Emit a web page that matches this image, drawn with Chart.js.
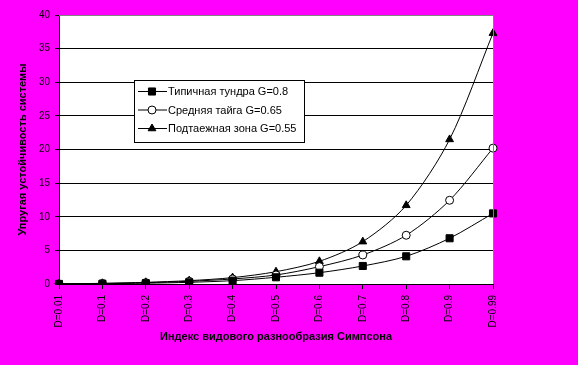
<!DOCTYPE html>
<html>
<head>
<meta charset="utf-8">
<script src="https://cdn.jsdelivr.net/npm/chart.js@4"></script>
<style>
    body { margin: 0; background: #ff00ff; }
    #wrap { width: 578px; height: 365px; }
</style>
</head>
<body>
<div id="wrap"><canvas id="chart" width="578" height="365"></canvas></div>
<script>
// ===== DATA =====
const categories = ["D=0.01", "D=0.1", "D=0.2", "D=0.3", "D=0.4", "D=0.5",
    "D=0.6", "D=0.7", "D=0.8", "D=0.9", "D=0.99"];
const tundra = [0.01, 0.05, 0.12, 0.25, 0.5, 1.0, 1.68, 2.68, 4.12, 6.8, 10.5];
const taiga = [0.02, 0.08, 0.2, 0.4, 0.75, 1.34, 2.58, 4.31, 7.25, 12.45, 20.2];
const subtaiga = [0.02, 0.1, 0.25, 0.5, 0.95, 1.83, 3.37, 6.3, 11.7, 21.5, 37.3];
const seriesNames = ["Типичная тундра G=0.8", "Средняя тайга G=0.65", "Подтаежная зона G=0.55"];
const yTicks = [0, 5, 10, 15, 20, 25, 30, 35, 40];

const FONT = "Arial, 'Liberation Sans', sans-serif";

//
// ================= PLUGINS =================
//
const plotBackground = {
    id: "plotBackground",
    beforeDraw(chart) {
        const { ctx, chartArea: a } = chart;
        ctx.save();
        ctx.fillStyle = "#ff00ff";
        ctx.fillRect(0, 0, chart.width, chart.height);
        ctx.fillStyle = "#ffffff";
        ctx.fillRect(a.left, a.top, a.right - a.left, a.bottom - a.top);
        ctx.restore();
    },
    afterDraw(chart) {
        const { ctx, chartArea: a } = chart;
        ctx.save();
        ctx.strokeStyle = "#808080";
        ctx.lineWidth = 1;
        ctx.beginPath();
        ctx.moveTo(a.left, a.top + 0.5);
        ctx.lineTo(a.right + 0.5, a.top + 0.5);
        ctx.lineTo(a.right + 0.5, a.bottom);
        ctx.stroke();
        ctx.restore();
    }
};

// legend box drawn inside the plot like the original
const boxLegend = {
    id: "boxLegend",
    afterDraw(chart) {
        const { ctx } = chart;
        const x = 134, y = 80, w = 170, h = 62;
        ctx.save();
        ctx.fillStyle = "#ffffff";
        ctx.fillRect(x, y, w, h);
        ctx.strokeStyle = "#000000";
        ctx.lineWidth = 1;
        ctx.strokeRect(x + 0.5, y + 0.5, w, h);
        ctx.font = "11px " + FONT;
        ctx.textBaseline = "middle";
        chart.data.datasets.forEach((ds, i) => {
            const cy = y + 11 + i * 18.5;
            ctx.beginPath();
            ctx.moveTo(138, cy + 0.5);
            ctx.lineTo(167, cy + 0.5);
            ctx.strokeStyle = "#000";
            ctx.stroke();
            ctx.fillStyle = ds.pointBackgroundColor;
            ctx.strokeStyle = "#000";
            Chart.helpers.drawPoint(ctx, {
                pointStyle: ds.pointStyle,
                radius: ds.pointRadius,
                borderWidth: 1
            }, 152, cy + 0.5);
            ctx.fillStyle = "#000";
            ctx.fillText(ds.label, 168, cy + 1);
        });
        ctx.restore();
    }
};

//
// ================= CHART =================
//
function makeSet(label, data, style, fill, radius) {
    return {
        label: label,
        data: data,
        borderColor: "#000000",
        borderWidth: 1,
        pointStyle: style,
        pointRadius: radius,
        pointBackgroundColor: fill,
        pointBorderColor: "#000000",
        pointBorderWidth: 1,
        tension: 0.3
    };
}

new Chart(document.getElementById("chart").getContext("2d"), {
    type: "line",
    data: {
        labels: categories,
        datasets: [
            makeSet(seriesNames[0], tundra, "rect", "#000000", 5),
            makeSet(seriesNames[1], taiga, "circle", "#ffffff", 4),
            makeSet(seriesNames[2], subtaiga, "triangle", "#000000", 4.5)
        ]
    },
    options: {
        responsive: false,
        animation: false,
        layout: { padding: { left: 0, right: 85, top: 15, bottom: 0 } },
        plugins: {
            legend: { display: false },
            tooltip: { enabled: false }
        },
        scales: {
            x: {
                type: "category",
                offset: false,
                afterFit: s => { s.height = 81; },
                grid: {
                    drawOnChartArea: false,
                    drawTicks: true,
                    tickLength: 5,
                    color: "#000000"
                },
                border: { color: "#000000", width: 1 },
                ticks: {
                    autoSkip: false,
                    minRotation: 90,
                    maxRotation: 90,
                    padding: 6,
                    color: "#000000",
                    font: { family: FONT, size: 10 }
                },
                title: {
                    display: true,
                    text: "Индекс видового разнообразия Симпсона",
                    color: "#000000",
                    font: { family: FONT, size: 11, weight: "bold" },
                    padding: { top: 0, bottom: 21 }
                }
            },
            y: {
                min: 0,
                max: 40,
                afterFit: s => { s.width = 59; },
                afterBuildTicks: s => { s.ticks = yTicks.map(v => ({ value: v })); },
                grid: {
                    color: "#000000",
                    tickLength: 4
                },
                border: { color: "#000000", width: 1 },
                ticks: {
                    padding: 5,
                    color: "#000000",
                    font: { family: FONT, size: 10 }
                },
                title: {
                    display: true,
                    text: "Упругая устойчивость системы",
                    color: "#000000",
                    font: { family: FONT, size: 11, weight: "bold" },
                    padding: { top: 16, bottom: 0 }
                }
            }
        }
    },
    plugins: [plotBackground, boxLegend]
});
</script>
</body>
</html>
